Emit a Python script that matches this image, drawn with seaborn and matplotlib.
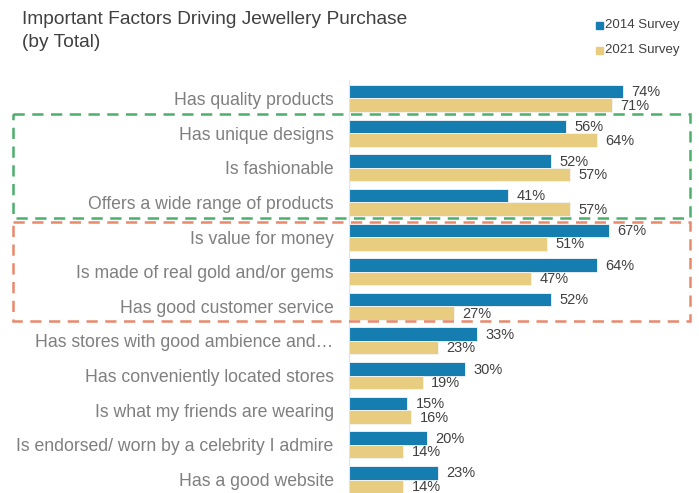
import matplotlib
matplotlib.use("Agg")
import matplotlib.pyplot as plt
import matplotlib.transforms as mtransforms
from matplotlib.patches import Rectangle
import seaborn as sns
import pandas as pd

categories = [
    "Has quality products",
    "Has unique designs",
    "Is fashionable",
    "Offers a wide range of products",
    "Is value for money",
    "Is made of real gold and/or gems",
    "Has good customer service",
    "Has stores with good ambience and\u2026",
    "Has conveniently located stores",
    "Is what my friends are wearing",
    "Is endorsed/ worn by a celebrity I admire",
    "Has a good website",
]
# bar lengths as drawn in the picture
survey_2014 = [70.6, 56, 52, 41, 67, 64, 52, 33, 30, 15, 20, 23]
survey_2021 = [67.7, 64, 57, 57, 51, 47, 27, 23, 19, 16, 14, 14]
# value labels as printed in the picture
labels_2014 = ["74%", "56%", "52%", "41%", "67%", "64%", "52%", "33%", "30%", "15%", "20%", "23%"]
labels_2021 = ["71%", "64%", "57%", "57%", "51%", "47%", "27%", "23%", "19%", "16%", "14%", "14%"]
series_names = ["2014 Survey", "2021 Survey"]
colors = ["#167db1", "#e8cc80"]

df = pd.DataFrame({
    "Factor": categories * 2,
    "Value": survey_2014 + survey_2021,
    "Survey": [series_names[0]] * len(categories) + [series_names[1]] * len(categories),
})

sns.set_theme(style="white")
plt.rcParams["font.family"] = ["Liberation Sans", "DejaVu Sans"]

W, H = 699, 493
fig = plt.figure(figsize=(W / 100, H / 100), dpi=100)
ax_left, ax_right = 349, 690
ax_top, ax_bottom = 80, 493
ax = fig.add_axes([ax_left / W, 1 - ax_bottom / H, (ax_right - ax_left) / W, (ax_bottom - ax_top) / H])

sns.barplot(data=df, y="Factor", x="Value", hue="Survey", order=categories,
            hue_order=series_names, palette=colors, width=0.78, orient="h",
            ax=ax, legend=False, saturation=1, edgecolor="#f4f4f4", linewidth=0.6)

px_per_cat = 34.64
ax.set_ylim(11 + (ax_bottom - 479.5) / px_per_cat, -(98.5 - ax_top) / px_per_cat)
ax.set_xlim(0, (ax_right - ax_left) / 3.88)

for cont, labs in zip(ax.containers, [labels_2014, labels_2021]):
    anns = ax.bar_label(cont, labels=labs, padding=6, fontsize=10.5, color="#404040")
    for a in anns:
        a.xyann = (6.0, -0.5)

ax.set_xlabel("")
ax.set_ylabel("")
ax.set_xticks([])
ax.tick_params(axis="y", length=0, pad=11, labelsize=12.7, labelcolor="#7f7f7f")
for s in ["top", "right", "bottom"]:
    ax.spines[s].set_visible(False)
ax.spines["left"].set_color("#d8e6ee")
ax.spines["left"].set_linewidth(0.8)

# dashed group boxes (x in figure coords, y in data coords)
trans = mtransforms.blended_transform_factory(fig.transFigure, ax.transData)
x0, x1 = 13 / W, 690 / W
for (ya, yb), col in [((0.45, 3.45), "#4caf6c"), ((3.56, 6.42), "#e9896c")]:
    r = Rectangle((x0, ya), x1 - x0, yb - ya, transform=trans, fill=False,
                  edgecolor=col, linewidth=1.8, linestyle=(0, (4.5, 3)),
                  clip_on=False)
    fig.add_artist(r)

fig.text(22 / W, 1 - 11 / H, "Important Factors Driving Jewellery Purchase\n(by Total)",
         ha="left", va="top", fontsize=13.8, color="#404040", linespacing=1.45)

for i, (name, c) in enumerate(zip(series_names, colors)):
    yc = 25 + i * 25
    fig.add_artist(Rectangle((596 / W, 1 - (yc + 4) / H), 7 / W, 7 / H,
                             transform=fig.transFigure, color=c))
    fig.text(605 / W, 1 - yc / H, name, ha="left", va="center", fontsize=9.5,
             color="#404040")

fig.savefig("out.png", dpi=100)
